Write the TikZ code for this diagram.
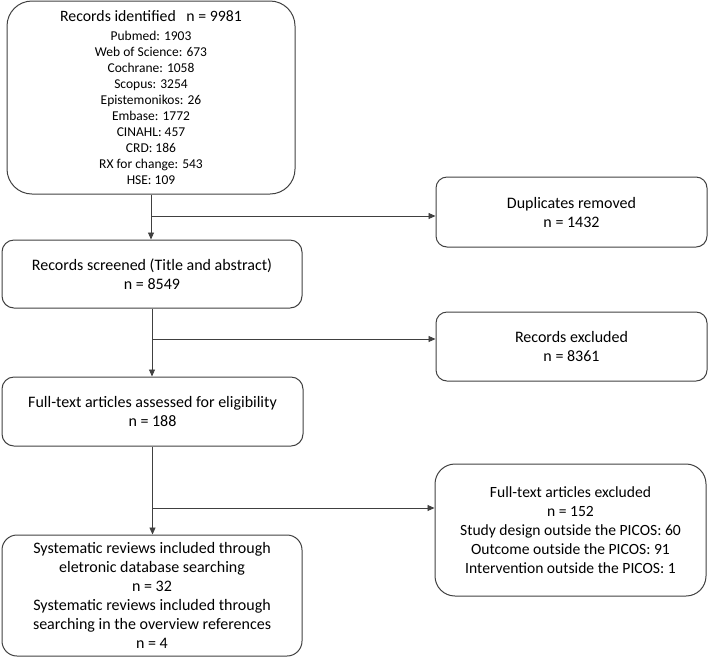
\documentclass[tikz,border=0pt]{standalone}
\usepackage{fontspec}
\setmainfont{Carlito}
\usetikzlibrary{arrows.meta}
\definecolor{linec}{HTML}{404040}
\tikzset{
  box/.style={draw=linec, line width=1pt, align=center, inner sep=2pt,
    font=\fontsize{16}{19}\selectfont, text=black},
  conn/.style={draw=linec, line width=0.9pt},
  arr/.style={conn, -{Triangle[length=7pt,width=6pt]}}
}
\begin{document}
\begin{tikzpicture}[x=1pt,y=-1pt]
\useasboundingbox (0,0) rectangle (708,657);
\node[box, rounded corners=25pt, minimum width=288pt, minimum height=193pt,
  font=\fontsize{13.5}{16}\selectfont] (b1) at (151,97.5)
  {{\fontsize{15.8}{19}\selectfont Records identified~~ n = 9981}\\[3pt]
   Pubmed: 1903\\ Web of Science: 673\\ Cochrane: 1058\\ Scopus: 3254\\
   Epistemonikos: 26\\ Embase: 1772\\ CINAHL: 457\\ CRD: 186\\
   RX for change: 543\\ HSE: 109};
\node[box, rounded corners=11pt, minimum width=271pt, minimum height=70pt] (b2) at (571.5,212)
  {Duplicates removed\\ n = 1432};
\node[box, rounded corners=12pt, minimum width=300pt, minimum height=68pt] (b3) at (152,274)
  {Records screened (Title and abstract)\\ n = 8549};
\node[box, rounded corners=11pt, minimum width=271pt, minimum height=69pt] (b4) at (571.5,346.5)
  {Records excluded\\ n = 8361};
\node[box, rounded corners=12pt, minimum width=301pt, minimum height=69pt] (b5) at (152.5,411.5)
  {Full-text articles assessed for eligibility\\ n = 188};
\node[box, rounded corners=20pt, minimum width=271pt, minimum height=132pt,
  font=\fontsize{15.6}{19}\selectfont] (b6) at (570.5,530)
  {Full-text articles excluded\\ n = 152\\ Study design outside the PICOS: 60\\
   Outcome outside the PICOS: 91\\ Intervention outside the PICOS: 1};
\node[box, rounded corners=15pt, minimum width=300pt, minimum height=121pt] (b7) at (152,595.5)
  {Systematic reviews included through\\ eletronic database searching\\ n = 32\\
   Systematic reviews included through\\ searching in the overview references\\ n = 4};
\coordinate (j1) at (151,216);
\coordinate (j2) at (152,339);
\coordinate (j3) at (152,508);
\draw[arr] (b1.south) -- (b1.south |- b3.north);
\draw[arr] (j1) -- (j1 -| b2.west);
\draw[arr] (b3.south) -- (b3.south |- b5.north);
\draw[arr] (j2) -- (j2 -| b4.west);
\draw[arr] (b5.south) -- (b5.south |- b7.north);
\draw[arr] (j3) -- (j3 -| b6.west);
\end{tikzpicture}
\end{document}
